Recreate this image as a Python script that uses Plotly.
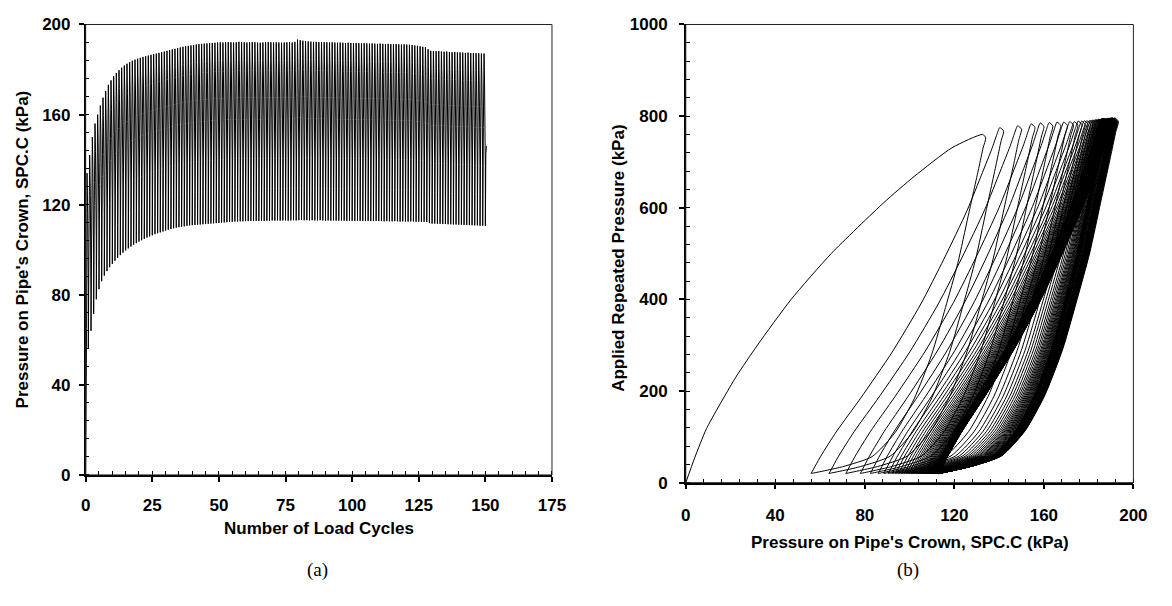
import numpy as np
import plotly.graph_objects as go

# ---------------- data ----------------
CYCLES = list(range(1, 151))

# crown pressure at the top of each load cycle (kPa)
PEAK_CROWN = [
    134, 142, 150, 156, 160, 164, 167.5, 170.5, 173.2, 175.2,
    177, 178.5, 179.7, 180.8, 181.8, 182.6, 183.3, 183.9, 184.4, 184.8,
    185.2, 185.6, 185.9, 186.2, 186.5, 186.8, 187.1, 187.4, 187.7, 188,
    188.3, 188.6, 188.9, 189.2, 189.5, 189.8, 190.1, 190.3, 190.5, 190.7,
    190.9, 191.1, 191.3, 191.4, 191.5, 191.6, 191.7, 191.8, 191.9, 192,
    192.1, 192.0, 192.1, 192.2, 192.1, 192.0, 192.1, 192.3, 192.2, 192.1,
    192.0, 192.1, 192.2, 192.1, 192.0, 191.9, 192.0, 192.1, 192.2, 192.1,
    192.0, 192.1, 192.0, 191.9, 192.0, 192.1, 192.2, 192.0, 192.3, 193.3,
    193.0, 192.8, 192.6, 192.5, 192.4, 192.3, 192.3, 192.2, 192.2, 192.1,
    192.1, 192.0, 192.1, 192.0, 191.9, 192.0, 191.9, 191.8, 191.9, 191.8,
    191.7, 191.8, 191.7, 191.6, 191.7, 191.6, 191.5, 191.6, 191.5, 191.4,
    191.5, 191.4, 191.3, 191.4, 191.3, 191.2, 191.3, 191.2, 191.1, 191.2,
    191.1, 191.0, 190.9, 190.7, 190.5, 190.3, 190.1, 189.9, 189.0, 188.3,
    188.2, 188.1, 188.2, 188.0, 187.9, 188.0, 187.8, 187.7, 187.8, 187.6,
    187.6, 187.5, 187.4, 187.5, 187.3, 187.3, 187.2, 187.2, 187.1, 187.1,
]

# crown pressure at the bottom of each load cycle (kPa)
TROUGH_CROWN = [
    56, 64, 71.5, 78, 82.5, 86, 88.5, 90.5, 92.2, 93.7,
    95.1, 96.4, 97.6, 98.7, 99.7, 100.6, 101.4, 102.2, 102.9, 103.6,
    104.2, 104.8, 105.4, 105.9, 106.4, 106.9, 107.3, 107.7, 108.1, 108.5,
    108.9, 109.2, 109.5, 109.8, 110.0, 110.2, 110.4, 110.6, 110.8, 110.9,
    111.0, 111.1, 111.2, 111.3, 111.4, 111.5, 111.6, 111.7, 111.8, 111.9,
    112.0, 112.1, 112.2, 112.3, 112.4, 112.5, 112.5, 112.6, 112.6, 112.7,
    112.7, 112.8, 112.7, 112.8, 112.8, 112.9, 112.8, 112.9, 112.9, 113.0,
    112.9, 113.0, 112.9, 113.0, 113.0, 112.9, 113.0, 113.1, 113.0, 113.1,
    113.2, 113.1, 113.1, 113.0, 113.1, 113.0, 113.0, 113.1, 113.0, 112.9,
    113.0, 112.9, 113.0, 112.9, 112.9, 113.0, 112.9, 112.8, 112.9, 112.8,
    112.8, 112.9, 112.8, 112.8, 112.7, 112.8, 112.7, 112.7, 112.8, 112.7,
    112.7, 112.6, 112.7, 112.6, 112.6, 112.7, 112.6, 112.5, 112.6, 112.5,
    112.5, 112.6, 112.5, 112.4, 112.5, 112.4, 112.4, 112.3, 111.8, 111.6,
    111.6, 111.5, 111.5, 111.4, 111.4, 111.3, 111.3, 111.2, 111.2, 111.1,
    111.1, 111.0, 111.0, 110.9, 110.9, 110.8, 110.8, 110.7, 110.7, 110.6,
]

# applied repeated pressure at the top of each cycle (kPa)
PEAK_LOAD = [
    760, 775, 779, 783, 785, 786, 787, 787, 788, 788,
    789, 789, 790, 790, 790, 791, 791, 791, 792, 792,
    792, 792, 793, 793, 793, 793, 793, 794, 794, 794,
    794, 794, 795, 794, 794, 795, 795, 794, 795, 795,
    795, 794, 795, 795, 795, 794, 795, 795, 795, 795,
    795, 794, 795, 795, 794, 795, 795, 795, 794, 795,
    795, 795, 794, 795, 795, 795, 795, 794, 795, 795,
    794, 795, 795, 795, 794, 795, 795, 795, 795, 796,
    796, 795, 795, 795, 794, 795, 795, 795, 794, 795,
    795, 795, 794, 795, 795, 795, 794, 795, 795, 794,
    795, 795, 794, 795, 795, 795, 794, 795, 795, 794,
    795, 794, 795, 795, 794, 795, 795, 794, 795, 794,
    795, 794, 795, 794, 794, 795, 794, 794, 794, 794,
    794, 794, 793, 794, 794, 793, 794, 794, 793, 794,
    793, 794, 793, 794, 793, 793, 794, 793, 793, 793,
]
LOAD_MIN = 20            # applied pressure at the bottom of each cycle (kPa)
END_TIME, END_CROWN = 150.4, 146   # last, partial reading

# within-cycle loop shapes, as fractions of the cycle's range
FIRST_V = [0, 0.072, 0.155, 0.303, 0.395, 0.526, 0.658, 0.804, 0.879, 0.962, 1.0]
FIRST_U = [0, 0.030, 0.069, 0.167, 0.239, 0.351, 0.485, 0.660, 0.761, 0.888, 0.99]
LOAD_V = [0, 0.05, 0.12, 0.22, 0.35, 0.49, 0.62, 0.76, 0.87, 0.94, 0.98, 1.0]
LOAD_U = [0, 0.05, 0.13, 0.26, 0.42, 0.57, 0.69, 0.81, 0.89, 0.94, 0.965, 0.98]
UNLOAD_V = [0.99, 0.96, 0.90, 0.76, 0.62, 0.49, 0.35, 0.22, 0.12, 0.05, 0.02, 0]
UNLOAD_W = [1.0, 0.985, 0.96, 0.90, 0.84, 0.77, 0.69, 0.59, 0.48, 0.35, 0.18, 0]

# ---------------- build the recorded time series ----------------
t, crown, load = [], [], []
prev_T = 0.0
for i, k in enumerate(CYCLES):
    P, T, L = PEAK_CROWN[i], TROUGH_CROWN[i], PEAK_LOAD[i]
    vs, us = (FIRST_V, FIRST_U) if i == 0 else (LOAD_V, LOAD_U)
    base = 0 if i == 0 else LOAD_MIN
    for v, u in zip(vs, us):
        t.append(k - 1 + 0.5 * v)
        crown.append(prev_T + (P - prev_T) * u)
        load.append(base + (L - base) * v)
    for v, w in zip(UNLOAD_V, UNLOAD_W):
        t.append(k - 0.5 + 0.5 * (1 - v))
        crown.append(T + (P - T) * w)
        load.append(LOAD_MIN + (L - LOAD_MIN) * v)
    prev_T = T

# final partial loading
P, L = PEAK_CROWN[-1], PEAK_LOAD[-1]
u_end = (END_CROWN - prev_T) / (P - prev_T)
for v, u in zip(LOAD_V, LOAD_U):
    if u >= u_end:
        break
    t.append(CYCLES[-1] + 0.5 * v)
    crown.append(prev_T + (P - prev_T) * u)
    load.append(LOAD_MIN + (L - LOAD_MIN) * v)
v_end = float(np.interp(u_end, LOAD_U, LOAD_V))
t.append(END_TIME)
crown.append(END_CROWN)
load.append(LOAD_MIN + (L - LOAD_MIN) * v_end)

# ---------------- figure ----------------
W, H = 1172, 606
FONT = "Liberation Sans, Arial, sans-serif"
SERIF = "Liberation Serif, Times New Roman, serif"

fig = go.Figure()
fig.add_trace(go.Scatter(x=t, y=crown, mode="lines", xaxis="x", yaxis="y",
                         line=dict(color="black", width=1), hoverinfo="skip"))
fig.add_trace(go.Scatter(x=crown, y=load, mode="lines", xaxis="x2", yaxis="y2",
                         line=dict(color="black", width=1, shape="spline", smoothing=0.6),
                         hoverinfo="skip"))

def px_x(p):
    return p / W

def px_y(p):
    return 1 - p / H

tickfont = dict(family=FONT, size=17, color="black", weight="bold")

def axis(domain, rng, dtick, mdtick, anchor, standoff):
    return dict(domain=domain, range=rng, tick0=0, dtick=dtick, anchor=anchor,
                ticks="outside", ticklen=5, tickwidth=1.5, tickcolor="black",
                showline=True, linecolor="black", linewidth=1.5,
                showgrid=False, zeroline=False, fixedrange=True,
                tickfont=tickfont, ticklabelstandoff=standoff,
                minor=dict(dtick=mdtick, tick0=0, ticks="inside", ticklen=4,
                           tickwidth=1, tickcolor="black", showgrid=False))

fig.update_layout(
    width=W, height=H, margin=dict(l=0, r=0, t=0, b=0),
    paper_bgcolor="white", plot_bgcolor="white", showlegend=False,
    xaxis=axis([px_x(82), px_x(556)], [0, 175], 25, 5, "y", 9),
    yaxis=axis([px_y(481), px_y(16)], [0, 200], 40, 8, "x", 5),
    xaxis2=axis([px_x(692), px_x(1147)], [0, 200], 40, 8, "y2", 11),
    yaxis2=axis([px_y(489), px_y(16)], [0, 1000], 200, 40, "x2", 8),
)

# plot-area frames
for xr, yr in (("x domain", "y domain"), ("x2 domain", "y2 domain")):
    fig.add_shape(type="rect", xref=xr, yref=yr, x0=0, x1=1, y0=0, y1=1,
                  line=dict(color="#222", width=1), layer="above")

titlefont = dict(family=FONT, size=17, color="black", weight="bold")
ann = [
    dict(text="Number of Load Cycles", x=px_x(319), y=px_y(536), textangle=0),
    dict(text="Pressure on Pipe's Crown, SPC.C (kPa)", x=px_x(18), y=px_y(248.5), textangle=-90),
    dict(text="Pressure on Pipe's Crown, SPC.C (kPa)", x=px_x(919.5), y=px_y(551), textangle=0),
    dict(text="Applied Repeated Pressure (kPa)", x=px_x(624), y=px_y(257), textangle=-90),
]
for a in ann:
    fig.add_annotation(xref="paper", yref="paper", showarrow=False,
                       xanchor="center", yanchor="middle", font=titlefont, **a)
for txt, xp in (("(a)", 318), ("(b)", 918)):
    fig.add_annotation(text=txt, xref="paper", yref="paper", x=px_x(xp), y=px_y(579),
                       showarrow=False, xanchor="center", yanchor="middle",
                       font=dict(family=SERIF, size=19, color="black"))

fig.write_html("out.html")
